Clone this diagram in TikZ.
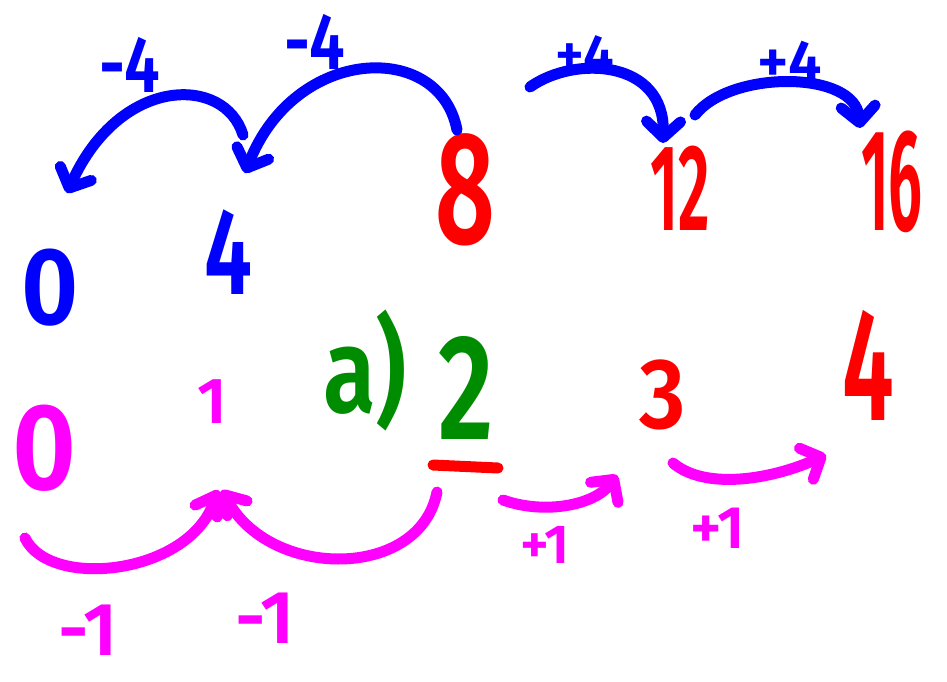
\documentclass[tikz,border=0pt]{standalone}
\usepackage{fontspec}
\setmainfont{Fira Sans}[BoldFont={Fira Sans SemiBold}]
\usetikzlibrary{arrows.meta}
\definecolor{inkblue}{RGB}{0,0,255}
\definecolor{inkred}{RGB}{255,0,0}
\definecolor{inkpink}{RGB}{255,0,255}
\definecolor{inkgreen}{RGB}{0,140,0}
\newcommand{\inksize}[1]{\fontsize{#1}{#1}\selectfont\bfseries}
\newcommand{\narrow}[2]{\scalebox{#1}[1]{#2}}

\begin{document}
\begin{tikzpicture}[x=1pt,y=-1pt,
  num/.style={inner sep=0pt, anchor=center},
  stroke/.style={line width=11pt, line cap=round, line join=round},
  hop/.style={stroke, -{Straight Barb[length=16pt 0, width=34pt 0, line cap=round, line join=round]}}]
\useasboundingbox (0,0) rectangle (947,681);
% top row
\node[num, inkblue, font=\inksize{110}] (b0) at (50,288) {\narrow{0.9}{0}};
\node[num, inkblue, font=\inksize{123}] (b4) at (228,252) {\narrow{0.7}{4}};
\node[num, inkred, font=\inksize{160}] (r8) at (465,190) {\narrow{0.65}{8}};
\node[num, inkred, font=\inksize{123}] (r12) at (680,188) {\narrow{0.5}{12}};
\node[num, inkred, font=\inksize{145}] (r16) at (892,182) {\narrow{0.42}{16}};
% bottom row
\node[num, inkpink, font=\inksize{123}] (m0) at (45,448) {\narrow{0.9}{0}};
\node[num, inkpink, font=\inksize{65}] (m1) at (212,402) {1};
\node[num, inkgreen, font=\inksize{120}] (ga) at (365,370) {\narrow{0.8}{a)}};
\node[num, inkgreen, font=\inksize{150}] (g2) at (466,388) {\narrow{0.72}{2}};
\node[num, inkred, font=\inksize{100}] (r3) at (663,395) {\narrow{0.9}{3}};
\node[num, inkred, font=\inksize{160}] (r4) at (868,365) {\narrow{0.58}{4}};
\draw[stroke, inkred] (433,465) -- (498,468);
% jump labels
\node[num, inkblue, font=\inksize{80}] (t1) at (130,65) {\narrow{0.8}{-4}};
\node[num, inkblue, font=\inksize{80}] (t2) at (315,42) {\narrow{0.8}{-4}};
\node[num, inkblue, font=\inksize{55}] (t3) at (585,55) {+4};
\node[num, inkblue, font=\inksize{60}] (t4) at (790,62) {+4};
\node[num, inkpink, font=\inksize{75}] (u1) at (88,630) {-1};
\node[num, inkpink, font=\inksize{75}] (u2) at (265,618) {-1};
\node[num, inkpink, font=\inksize{55}] (u3) at (545,545) {+1};
\node[num, inkpink, font=\inksize{60}] (u4) at (718,528) {+1};
% jump ends
\coordinate (j8) at (457,130);
\coordinate (j4) at (245,173);
\coordinate (j4s) at (243,135);
\coordinate (j0) at (67,193);
\coordinate (k8) at (530,87);
\coordinate (k12) at (663,143);
\coordinate (k12s) at (695,115);
\coordinate (k16) at (860,128);
\coordinate (p0) at (25,538);
\coordinate (p1) at (218,490);
\coordinate (p1r) at (222,490);
\coordinate (p2) at (437,492);
\coordinate (q2) at (503,500);
\coordinate (q3) at (617,475);
\coordinate (q3s) at (673,463);
\coordinate (q4) at (826,455);
% jumps
\draw[hop, inkblue] (j8) .. controls (440,40) and (295,45) .. (j4);
\draw[hop, inkblue] (j4s) .. controls (225,75) and (120,75) .. (j0);
\draw[hop, inkblue] (k8) .. controls (575,55) and (665,60) .. (k12);
\draw[hop, inkblue] (k12s) .. controls (730,70) and (855,70) .. (k16);
\draw[hop, inkpink] (p0) .. controls (50,590) and (190,575) .. (p1);
\draw[hop, inkpink] (p2) .. controls (420,580) and (270,580) .. (p1r);
\draw[hop, inkpink] (q2) .. controls (545,515) and (595,505) .. (q3);
\draw[hop, inkpink] (q3s) .. controls (705,490) and (770,480) .. (q4);
\end{tikzpicture}
\end{document}
